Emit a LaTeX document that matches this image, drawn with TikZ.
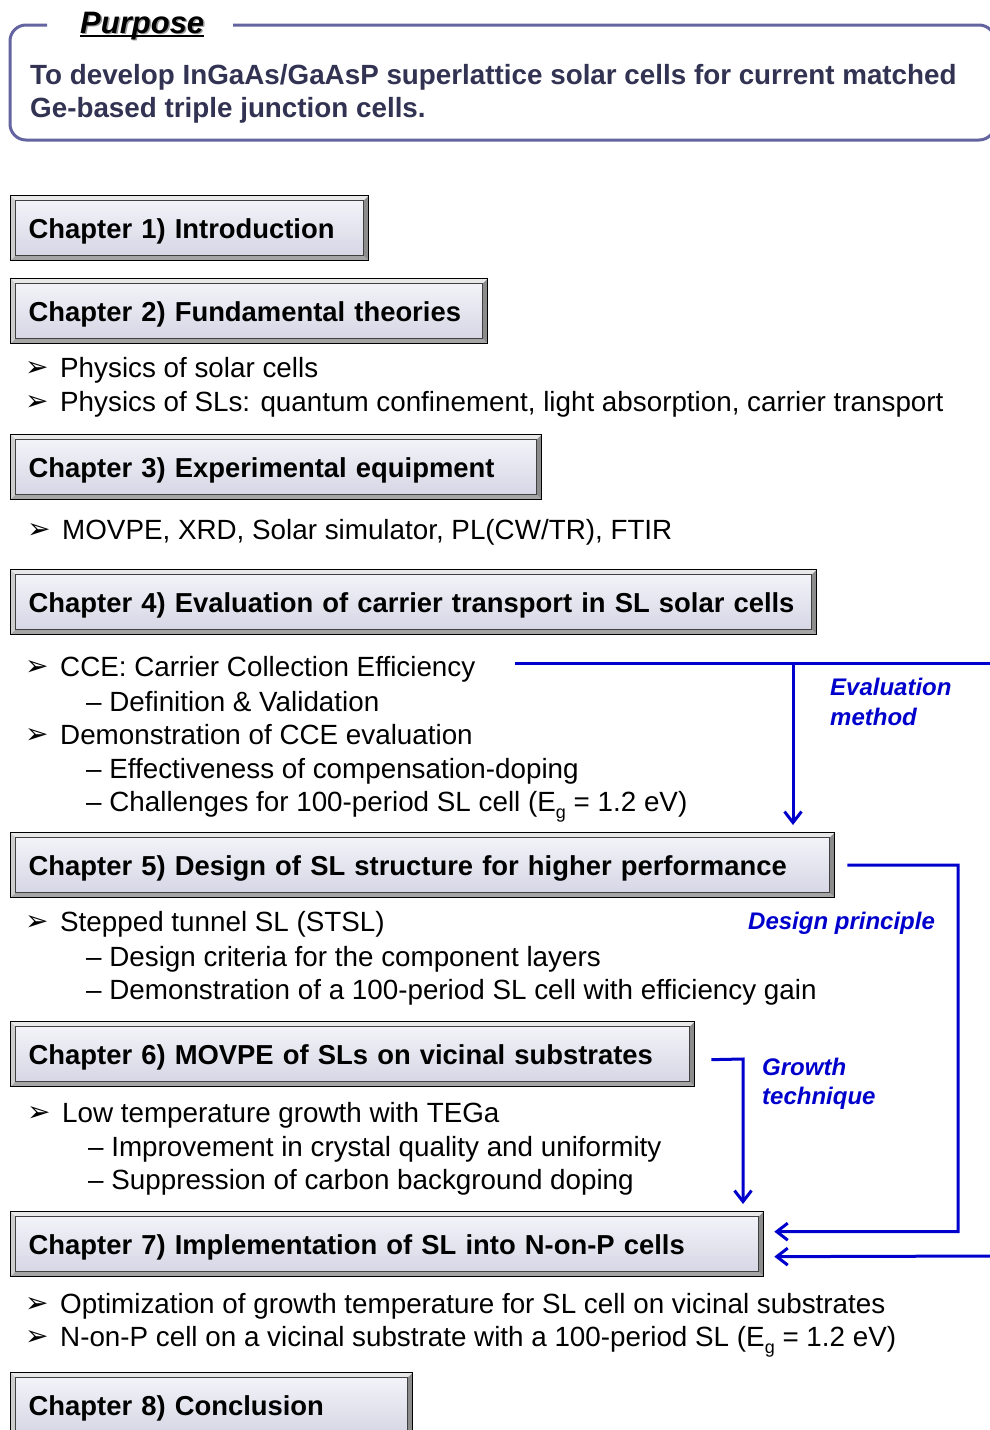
\documentclass[tikz,border=0pt]{standalone}
\usepackage{fontspec}
\setmainfont{Liberation Sans}
\newfontfamily\symfont{DejaVu Sans}
\usetikzlibrary{arrows.meta}
\definecolor{chtop}{RGB}{245,245,250}
\definecolor{chbot}{RGB}{212,212,228}
\definecolor{framec}{RGB}{100,100,160}
\definecolor{navy}{RGB}{50,50,82}
\definecolor{linkblue}{RGB}{0,0,204}
\definecolor{bvtop}{RGB}{232,232,232}
\definecolor{bvleft}{RGB}{205,205,205}
\definecolor{bvright}{RGB}{140,140,140}
\definecolor{bvbot}{RGB}{165,165,165}
\newcommand{\subg}{\raisebox{-7pt}{\fontsize{18}{20}\selectfont g}}
\begin{document}
\begin{tikzpicture}[x=1pt,y=-1pt,
  chbox/.style={draw=black, line width=1.3pt, rectangle, anchor=north west,
    minimum height=65pt, inner xsep=18pt, inner ysep=0pt, text width=#1, align=left,
    text height=24pt, text depth=4pt,
    font=\fontsize{27.4}{34}\selectfont\bfseries,
    top color=chtop, bottom color=chbot,
    path picture={
      \fill[bvtop] (path picture bounding box.north west) -- (path picture bounding box.north east)
        -- ([xshift=-5pt,yshift=-5pt]path picture bounding box.north east)
        -- ([xshift=5pt,yshift=-5pt]path picture bounding box.north west) -- cycle;
      \fill[bvleft] (path picture bounding box.north west) -- (path picture bounding box.south west)
        -- ([xshift=5pt,yshift=5pt]path picture bounding box.south west)
        -- ([xshift=5pt,yshift=-5pt]path picture bounding box.north west) -- cycle;
      \fill[bvright] (path picture bounding box.north east) -- (path picture bounding box.south east)
        -- ([xshift=-5pt,yshift=5pt]path picture bounding box.south east)
        -- ([xshift=-5pt,yshift=-5pt]path picture bounding box.north east) -- cycle;
      \fill[bvbot] (path picture bounding box.south west) -- (path picture bounding box.south east)
        -- ([xshift=-5pt,yshift=5pt]path picture bounding box.south east)
        -- ([xshift=5pt,yshift=5pt]path picture bounding box.south west) -- cycle;
      \draw[black!75, line width=0.6pt] ([xshift=5pt,yshift=-5pt]path picture bounding box.north west)
        rectangle ([xshift=-5pt,yshift=5pt]path picture bounding box.south east);
    }},
  txt/.style={anchor=base west, inner sep=0pt, font=\fontsize{27.8}{34}\selectfont},
  bul/.style={anchor=base west, inner sep=0pt, font=\symfont\fontsize{28}{30}\selectfont},
  lbl/.style={anchor=base west, inner sep=0pt, text=linkblue, font=\fontsize{24}{29}\selectfont\bfseries\itshape},
  ptxt/.style={anchor=base west, inner sep=0pt, text=navy, font=\fontsize{27.8}{34}\selectfont\bfseries},
  link/.style={draw=linkblue, line width=3pt},
  linkarrow/.style={link, -{Straight Barb[length=11pt,width=17pt]}},
]
\useasboundingbox (0,0) rectangle (989,1430);

% Purpose frame
\draw[framec, line width=3pt, rounded corners=16pt] (233,25) -- (995,25) -- (995,140) -- (10,140) -- (10,25) -- (47,25);
\node[anchor=base west, inner sep=0pt, text=black!40, font=\fontsize{31}{36}\selectfont\bfseries\itshape] (ptitleshadow) at (81.5,34.5) {Purpose};
\node[anchor=base west, inner sep=0pt, text=black, font=\fontsize{31}{36}\selectfont\bfseries\itshape] (ptitle) at (80,33) {Purpose};
\draw[black, line width=1.8pt] ([yshift=-3pt]ptitle.base west) -- ([yshift=-3pt]ptitle.base east);
\node[ptxt] (p1) at (30,84) {To develop InGaAs/GaAsP superlattice solar cells for current matched};
\node[ptxt] (p2) at (30,117) {Ge-based triple junction cells.};

% Chapters
\node[chbox=322pt] (ch1) at (10,195) {\mbox{Chapter 1) Introduction}};
\node[chbox=441pt] (ch2) at (10,278) {\mbox{Chapter 2) Fundamental theories}};
\node[chbox=495pt] (ch3) at (10,434) {\mbox{Chapter 3) Experimental equipment}};
\node[chbox=770pt] (ch4) at (10,569) {\mbox{Chapter 4) Evaluation of carrier transport in SL solar cells}};
\node[chbox=788pt] (ch5) at (10,832) {\mbox{Chapter 5) Design of SL structure for higher performance}};
\node[chbox=648pt] (ch6) at (10,1021) {\mbox{Chapter 6) MOVPE of SLs on vicinal substrates}};
\node[chbox=717pt] (ch7) at (10,1211) {\mbox{Chapter 7) Implementation of SL into N-on-P cells}};
\node[chbox=366pt] (ch8) at (10,1372) {\mbox{Chapter 8) Conclusion}};

% Chapter 2 items
\node[bul] (b21) at (25,376) {➢};
\node[txt] (t21) at (60,377) {Physics of solar cells};
\node[bul] (b22) at (25,410) {➢};
\node[txt] (t22) at (60,411) {Physics of SLs: quantum confinement, light absorption, carrier transport};

% Chapter 3 items
\node[bul] (b31) at (27,538) {➢};
\node[txt] (t31) at (62,539) {MOVPE, XRD, Solar simulator, PL(CW/TR), FTIR};

% Chapter 4 items
\node[bul] (b41) at (25,675) {➢};
\node[txt] (t41) at (60,676) {CCE: Carrier Collection Efficiency};
\node[txt] (t42) at (86,711) {– Definition \& Validation};
\node[bul] (b43) at (25,743) {➢};
\node[txt] (t43) at (60,744) {Demonstration of CCE evaluation};
\node[txt] (t44) at (86,778) {– Effectiveness of compensation-doping};
\node[txt] (t45) at (86,811) {– Challenges for 100-period SL cell (E\subg{} = 1.2 eV)};

% Chapter 5 items
\node[bul] (b51) at (25,930) {➢};
\node[txt] (t51) at (60,931) {Stepped tunnel SL (STSL)};
\node[txt] (t52) at (86,966) {– Design criteria for the component layers};
\node[txt] (t53) at (86,999) {– Demonstration of a 100-period SL cell with efficiency gain};

% Chapter 6 items
\node[bul] (b61) at (27,1121) {➢};
\node[txt] (t61) at (62,1122) {Low temperature growth with TEGa};
\node[txt] (t62) at (88,1156) {– Improvement in crystal quality and uniformity};
\node[txt] (t63) at (88,1189) {– Suppression of carbon background doping};

% Chapter 7 items
\node[bul] (b71) at (25,1312) {➢};
\node[txt] (t71) at (60,1313) {Optimization of growth temperature for SL cell on vicinal substrates};
\node[bul] (b72) at (25,1345) {➢};
\node[txt] (t72) at (60,1346) {N-on-P cell on a vicinal substrate with a 100-period SL (E\subg{} = 1.2 eV)};

% Labels
\node[lbl] (lev1) at (830,695) {Evaluation};
\node[lbl] (lev2) at (830,725) {method};
\node[lbl] (lds) at (748,929) {Design principle};
\node[lbl] (lgr1) at (762,1075) {Growth};
\node[lbl] (lgr2) at (762,1104) {technique};

% Connectors
\coordinate (evs) at (515,663);
\coordinate (eve) at (995,663);
\coordinate (evj) at (793,663);
\coordinate (inr) at (995,1256);
\coordinate (dsc) at (958,865);
\coordinate (grc) at (743,1059);
\draw[link] (evs) -- (eve);
\draw[linkarrow] (evj) -- ([yshift=7pt]ch5.north -| evj);
\draw[linkarrow] ([xshift=12pt]ch5.east) -- (dsc) |- ([xshift=10pt,yshift=12.5pt]ch7.east);
\draw[linkarrow] ([xshift=16pt,yshift=-5.5pt]ch6.east) -- (grc) -- ([yshift=7pt]ch7.north -| grc);
\draw[linkarrow] (inr) -- ([xshift=10pt,yshift=-12.5pt]ch7.east);
\end{tikzpicture}
\end{document}
